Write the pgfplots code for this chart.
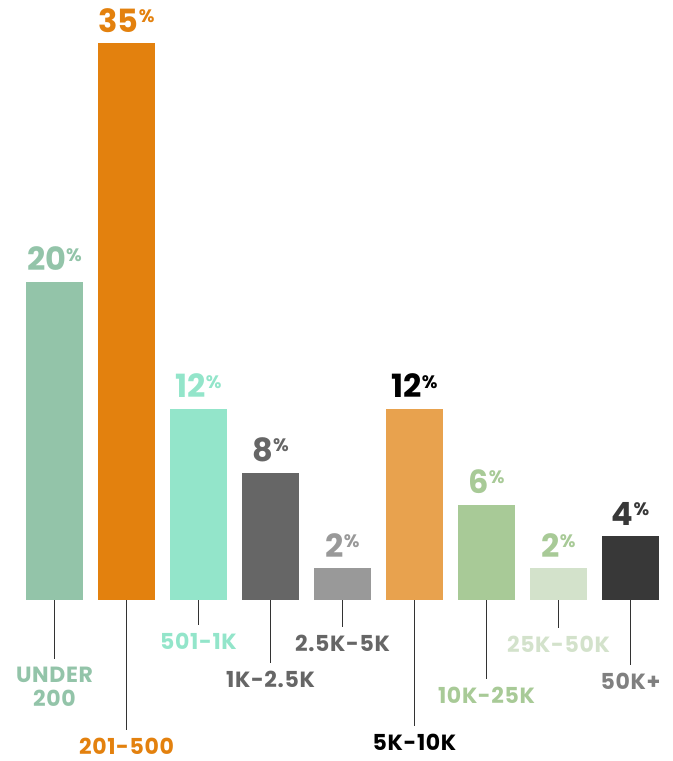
\documentclass[border=0pt]{standalone}
\usepackage{pgfplots}
\pgfplotsset{compat=1.18}
\usepackage{fontspec}
\setmainfont{Poppins}

\definecolor{cA}{HTML}{93C4A9}
\definecolor{cB}{HTML}{E3810E}
\definecolor{cC}{HTML}{93E5CA}
\definecolor{cD}{HTML}{666666}
\definecolor{cE}{HTML}{999999}
\definecolor{cF}{HTML}{E8A24E}
\definecolor{cG}{HTML}{A8CA97}
\definecolor{cH}{HTML}{D3E2CB}
\definecolor{cI}{HTML}{383838}
\definecolor{leader}{HTML}{333333}

% small raised percent sign after the big value
\newcommand{\pct}{{\fontsize{18bp}{18bp}\selectfont\raisebox{9.5bp}{\%}}}

\begin{document}
\begin{tikzpicture}[
  cat/.style={below=7bp, inner sep=0pt, align=center,
    font=\bfseries\fontsize{22bp}{24bp}\selectfont\addfontfeature{LetterSpace=3}},
]
\path[use as bounding box] (0,0) rectangle (673bp,761bp);
\begin{axis}[
  at={(0bp,161bp)}, anchor=south west,
  scale only axis, width=673bp, height=600bp,
  xmin=-0.757, xmax=8.590, ymin=0, ymax=37.736,
  hide axis, clip=false,
  ybar, bar shift=0pt, bar width=57bp,
  nodes near coords={\pgfmathprintnumber[assume math mode=true]{\pgfplotspointmeta}\pct},
  every node near coord/.style={anchor=south, inner sep=0pt, yshift=11bp,
    font=\bfseries\fontsize{32bp}{32bp}\selectfont},
  every axis plot/.append style={draw=none},
]
\addplot[fill=cA, nodes near coords style={text=cA}] coordinates {(0,20)};
\addplot[fill=cB, nodes near coords style={text=cB}] coordinates {(1,35)};
\addplot[fill=cC, nodes near coords style={text=cC}] coordinates {(2,12)};
\addplot[fill=cD, nodes near coords style={text=cD}] coordinates {(3,8)};
\addplot[fill=cE, nodes near coords style={text=cE}] coordinates {(4,2)};
\addplot[fill=cF, nodes near coords style={text=black}] coordinates {(5,12)};
\addplot[fill=cG, nodes near coords style={text=cG}] coordinates {(6,6)};
\addplot[fill=cH, nodes near coords style={text=cG}] coordinates {(7,2)};
\addplot[fill=cI, nodes near coords style={text=cI}] coordinates {(8,4)};

% category labels hanging from each bar on a leader line
\begin{scope}[line width=1.4bp, draw=leader]
\draw (axis cs:0,0) -- ++(0pt,-59bp)  node[cat, text=cA] {UNDER\\200};
\draw (axis cs:1,0) -- ++(0pt,-130bp) node[cat, text=cB] {201-500};
\draw (axis cs:2,0) -- ++(0pt,-25bp)  node[cat, text=cC] {501-1K};
\draw (axis cs:3,0) -- ++(0pt,-63bp)  node[cat, text=cD] {1K-2.5K};
\draw (axis cs:4,0) -- ++(0pt,-27bp)  node[cat, text=cD] {2.5K-5K};
\draw (axis cs:5,0) -- ++(0pt,-126bp) node[cat, text=black] {5K-10K};
\draw (axis cs:6,0) -- ++(0pt,-79bp)  node[cat, text=cG] {10K-25K};
\draw (axis cs:7,0) -- ++(0pt,-28bp)  node[cat, text=cH] {25K-50K};
\draw (axis cs:8,0) -- ++(0pt,-65bp)  node[cat, text=gray] {50K+};
\end{scope}
\end{axis}
\end{tikzpicture}
\end{document}
